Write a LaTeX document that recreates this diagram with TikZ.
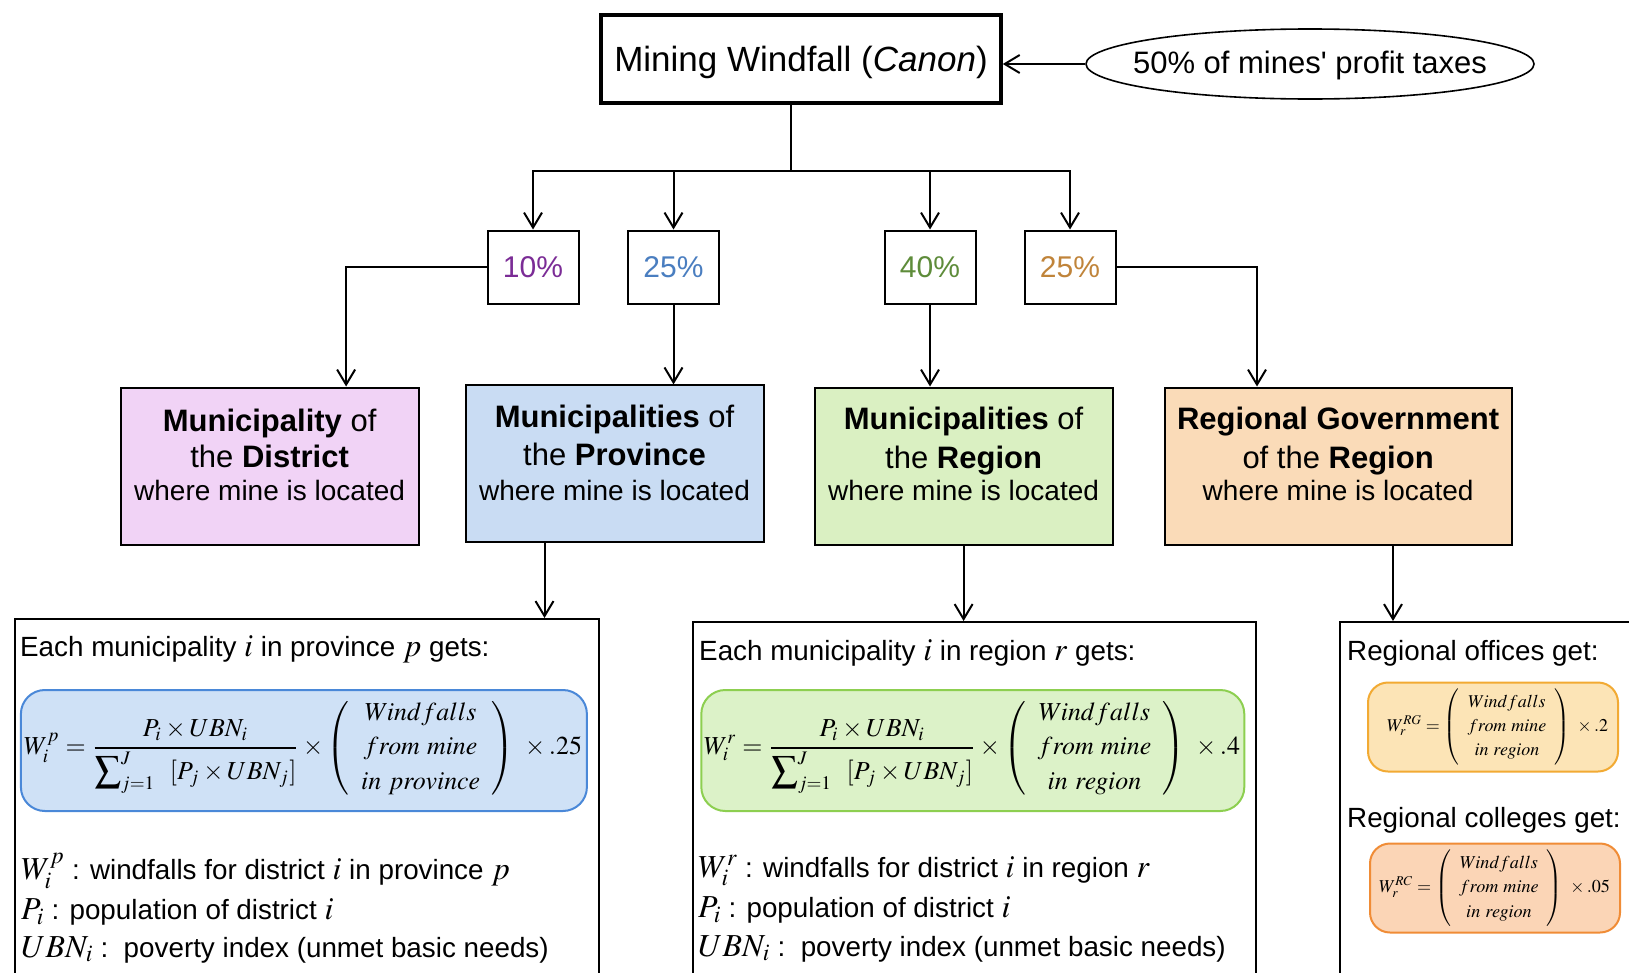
\documentclass[tikz,border=0pt]{standalone}
\usepackage{amsmath}
\usepackage{mathptmx}
\usepackage[no-math]{fontspec}
\setmainfont{Liberation Sans}
\usepackage{graphicx}
\usetikzlibrary{arrows.meta,shapes.geometric,calc}
\definecolor{c10}{HTML}{7B2C96}
\definecolor{c25}{HTML}{4A7EC0}
\definecolor{c40}{HTML}{5E8C3A}
\definecolor{c25b}{HTML}{C0843A}
\definecolor{fpink}{HTML}{F1D3F6}
\definecolor{fblue}{HTML}{C9DCF3}
\definecolor{fgreen}{HTML}{DAF0C2}
\definecolor{forange}{HTML}{FADBB8}
\definecolor{eqblue}{HTML}{CFE1F6}
\definecolor{eqblueb}{HTML}{4A88D8}
\definecolor{eqgreen}{HTML}{DCF2C8}
\definecolor{eqgreenb}{HTML}{8DCF50}
\definecolor{eqamber}{HTML}{FCE4B6}
\definecolor{eqamberb}{HTML}{F2AA33}
\definecolor{eqorange}{HTML}{FBD5B6}
\definecolor{eqorangeb}{HTML}{F08C36}
\newcommand{\mth}[1]{{\fontsize{32}{38}\selectfont$#1$}}
\newcommand{\wmat}[2]{{\renewcommand{\arraystretch}{#1}\begin{pmatrix}\;\;Windfalls\;\;\\ \;\;from\ mine\;\;\\ \;\;#2\;\;\end{pmatrix}}}
\newcommand{\wfrac}{\frac{P_i\times UBN_i}{\displaystyle\sum\nolimits_{j=1}^{J}\ \ [P_j\times UBN_j]}}
\begin{document}
\begin{tikzpicture}[x=1pt,y=-1pt,
  line/.style={line width=2pt},
  arr/.style={line width=2pt,-{Straight Barb[length=15pt,width=18pt]}},
  pct/.style={draw,line width=2pt,minimum width=91pt,minimum height=73pt,inner sep=0pt,font=\fontsize{30}{36}\selectfont},
  cat/.style={draw,line width=2pt,minimum height=157pt,inner sep=0pt},
  cattext/.style={anchor=north,align=center,inner sep=0pt,font=\fontsize{31}{37}\selectfont},
  bigbox/.style={draw,line width=2pt,anchor=north west,inner sep=0pt},
  txt/.style={anchor=base west,inner sep=0pt,font=\fontsize{27.8}{33}\selectfont},
  formbox/.style={draw,line width=2pt,rounded corners=24pt,inner sep=0pt},
  eq/.style={inner sep=0pt},
]
\useasboundingbox (0,0) rectangle (1629,972);
\clip (0,0) rectangle (1629,972);
\fill[white] (0,0) rectangle (1629,972);

% top
\node[draw,line width=3.5pt,minimum width=400pt,minimum height=88pt,inner sep=0pt] (top) at (801,59) {};
\node[inner sep=0pt,font=\fontsize{35}{42}\selectfont] (toptext) at ([yshift=-3pt]top.center) {Mining Windfall (\textit{Canon})};
\node[ellipse,draw,line width=1.6pt,minimum width=448pt,minimum height=70pt,inner sep=0pt] (ell) at (1310,64) {};
\node[inner sep=0pt,font=\fontsize{31}{37}\selectfont] (elltext) at ([yshift=-1.5pt]ell.center) {50\% of mines\textquotesingle\ profit taxes};
\draw[arr] (ell.west) -- (ell.west -| top.east);

% percentage boxes
\node[pct,text=c10] (p10) at (533,267) {10\%};
\node[pct,text=c25] (p25) at (673.5,267) {25\%};
\node[pct,text=c40] (p40) at (930,267) {40\%};
\node[pct,text=c25b] (p25b) at (1070,267) {25\%};

\coordinate (hub) at (790.6,171);
\draw[line] (top.south -| hub) -- (hub);
\draw[arr] (hub) -| (p10.north);
\draw[arr] (hub) -| (p25.north);
\draw[arr] (hub) -| (p40.north);
\draw[arr] (hub) -| (p25b.north);

% category boxes
\node[cat,fill=fpink,minimum width=298pt] (dist) at (269.6,466) {};
\node[cat,fill=fblue,minimum width=298pt] (prov) at (614.5,463.9) {};
\node[cat,fill=fgreen,minimum width=298pt] (reg) at (963.6,466) {};
\node[cat,fill=forange,minimum width=347pt] (gov) at (1338.1,466) {};

\node[cattext] (distt) at ([yshift=-22pt]dist.north) {\textbf{Municipality} of\\[-1pt] the \textbf{District}\\[-4pt] {\fontsize{28}{34}\selectfont where mine is located}};
\node[cattext] (provt) at ([yshift=-20pt]prov.north) {\textbf{Municipalities} of\\[1.5pt] the \textbf{Province}\\[-2pt] {\fontsize{28}{34}\selectfont where mine is located}};
\node[cattext] (regt) at ([yshift=-20pt]reg.north) {\textbf{Municipalities} of\\[2pt] the \textbf{Region}\\[-5pt] {\fontsize{28}{34}\selectfont where mine is located}};
\node[cattext] (govt) at ([yshift=-20pt]gov.north) {\textbf{Regional Government}\\[2pt] of the \textbf{Region}\\[-5pt] {\fontsize{28}{34}\selectfont where mine is located}};

\draw[arr] (p10.west) -| ([xshift=226.5pt]dist.north west);
\draw[arr] (p25.south) -- (p25.south |- prov.north);
\draw[arr] (p40.south) -- (p40.south |- reg.north);
\draw[arr] (p25b.east) -| ([xshift=93.4pt]gov.north west);

% bottom boxes
\node[bigbox,minimum width=584pt,minimum height=400pt] (provbox) at (13.5,618) {};
\node[bigbox,minimum width=563pt,minimum height=400pt] (regbox) at (692,621) {};
\node[bigbox,minimum width=400pt,minimum height=400pt] (govbox) at (1339,621) {};

\draw[arr] ([xshift=80pt]prov.south west) -- ([xshift=80pt]prov.south west |- provbox.north);
\draw[arr] (reg.south) -- (reg.south |- regbox.north);
\draw[arr] ([xshift=229.4pt]gov.south west) -- ([xshift=229.4pt]gov.south west |- govbox.north);

% province formulas
\node[txt] (pt1) at (20,656.6) {Each municipality \mth{i} in province \mth{p} gets:};
\node[formbox,fill=eqblue,draw=eqblueb,minimum width=566pt,minimum height=121pt] (fp) at (303.9,750.5) {};
\node[eq] (fpeq) at (303,748) {\resizebox{558pt}{!}{$\displaystyle W_i^p = \wfrac\times\wmat{1.1}{in\ province}\ \times .25$}};
\node[txt] (pl1) at (21,879) {\mth{W_i^p} : windfalls for district \mth{i} in province \mth{p}};
\node[txt] (pl2) at (21,919.4) {\mth{P_i} : population of district \mth{i}};
\node[txt] (pl3) at (21,957) {\mth{UBN_i} :\ \ poverty index (unmet basic needs)};

% region formulas
\node[txt] (rt1) at (699,660.7) {Each municipality \mth{i} in region \mth{r} gets:};
\node[formbox,fill=eqgreen,draw=eqgreenb,minimum width=543pt,minimum height=121pt] (fr) at (972.8,750.5) {};
\node[eq] (freq) at (972,748) {\resizebox{536pt}{!}{$\displaystyle W_i^r = \wfrac\times\wmat{1.1}{in\ region}\ \times .4$}};
\node[txt] (rl1) at (698,877) {\mth{W_i^r} : windfalls for district \mth{i} in region \mth{r}};
\node[txt] (rl2) at (698,917.3) {\mth{P_i} : population of district \mth{i}};
\node[txt] (rl3) at (698,956) {\mth{UBN_i} :\ \ poverty index (unmet basic needs)};

% regional government formulas
\node[txt] (gt1) at (1347,660.7) {Regional offices get:};
\node[formbox,rounded corners=20pt,fill=eqamber,draw=eqamberb,minimum width=250pt,minimum height=89pt] (fg) at (1493,727) {};
\node[eq] (fgeq) at (1497.5,727) {\resizebox{221pt}{!}{$\displaystyle W_r^{RG} = \wmat{1.12}{in\ region}\ \times .2$}};
\node[txt] (gt2) at (1347,827) {Regional colleges get:};
\node[formbox,rounded corners=20pt,fill=eqorange,draw=eqorangeb,minimum width=250pt,minimum height=89pt] (fc) at (1495,888) {};
\node[eq] (fceq) at (1494.5,888) {\resizebox{231pt}{!}{$\displaystyle W_r^{RC} = \wmat{1.12}{in\ region}\ \times .05$}};
\end{tikzpicture}
\end{document}
